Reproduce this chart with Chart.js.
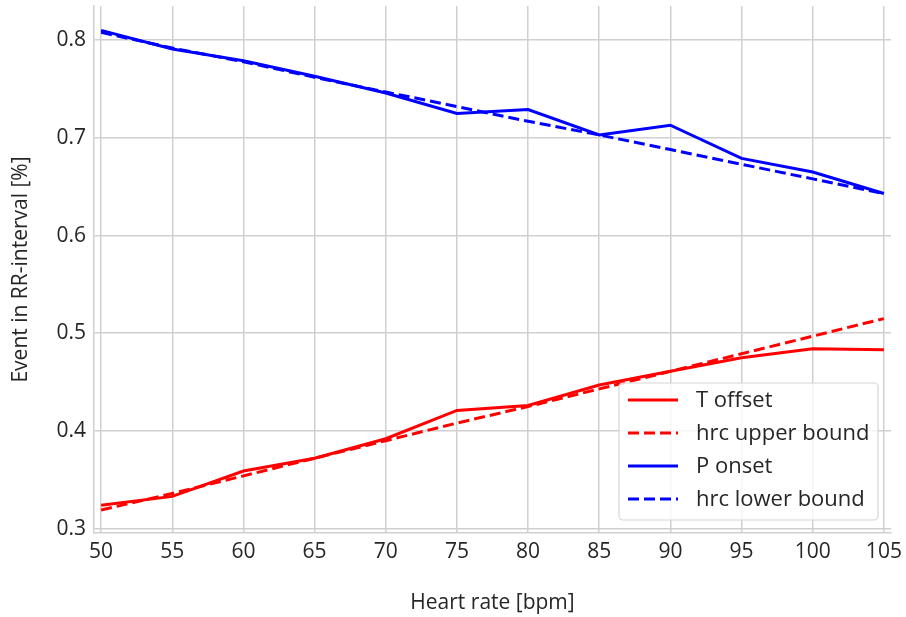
<!DOCTYPE html>
<html>
<head>
<meta charset="utf-8">
<script src="https://cdn.jsdelivr.net/npm/chart.js@4.4.0/dist/chart.umd.min.js"></script>
<style>
  html, body { margin: 0; padding: 0; background: #fff; }
  #wrap { width: 906px; height: 617px; }
</style>
</head>
<body>
<div id="wrap"><canvas id="hrcChart" width="906" height="617"></canvas></div>
<script>
// heart rate values (bpm)
const heartRates = [50, 55, 60, 65, 70, 75, 80, 85, 90, 95, 100, 105];

// event position in RR-interval
const tOffset    = [0.324, 0.333, 0.359, 0.372, 0.392, 0.421, 0.426, 0.447, 0.461, 0.475, 0.484, 0.483];
const hrcUpper   = [0.319, 0.336, 0.354, 0.372, 0.390, 0.408, 0.425, 0.443, 0.461, 0.479, 0.497, 0.515];
const pOnset     = [0.810, 0.791, 0.779, 0.763, 0.746, 0.725, 0.729, 0.703, 0.713, 0.679, 0.665, 0.643];
const hrcLower   = [0.808, 0.792, 0.778, 0.762, 0.747, 0.732, 0.717, 0.703, 0.688, 0.673, 0.658, 0.643];

const xTicks = [50, 55, 60, 65, 70, 75, 80, 85, 90, 95, 100, 105];
const yTicks = [0.3, 0.4, 0.5, 0.6, 0.7, 0.8];

const FONT = "'Open Sans', 'Noto Sans', sans-serif";
const gridColor = '#d0d0d0';

function pts(ys) {
    return heartRates.map((x, i) => ({ x: x, y: ys[i] }));
}

function line(label, ys, color, dashed) {
    return {
        label: label,
        data: pts(ys),
        borderColor: color,
        backgroundColor: color,
        borderWidth: 3,
        borderDash: dashed ? [11, 5] : [],
        pointRadius: 0,
        tension: 0,
        fill: false
    };
}

// legend drawn inside the plot, lower right
const boxLegend = {
    id: 'boxLegend',
    afterDatasetsDraw(chart) {
        const c = chart.ctx;
        const area = chart.chartArea;
        const right = area.right - 13, bottom = area.bottom - 13;
        const w = 259, h = 137;
        const left = right - w, top = bottom - h;

        c.save();
        c.beginPath();
        c.roundRect(left, top, w, h, 4);
        c.fillStyle = 'rgba(255,255,255,0.8)';
        c.fill();
        c.strokeStyle = '#d6d6d6';
        c.lineWidth = 1.2;
        c.stroke();

        c.font = '22px ' + FONT;
        c.textBaseline = 'middle';
        c.fillStyle = '#262626';
        chart.data.datasets.forEach((ds, i) => {
            const y = top + 17 + i * 33;
            c.beginPath();
            c.setLineDash(ds.borderDash);
            c.strokeStyle = ds.borderColor;
            c.lineWidth = 3;
            c.moveTo(left + 9, y);
            c.lineTo(left + 59, y);
            c.stroke();
            c.setLineDash([]);
            c.fillText(ds.label, left + 77, y + 1);
        });
        c.restore();
    }
};

const ctx = document.getElementById("hrcChart").getContext("2d");

const hrcChart = new Chart(ctx, {
    type: 'line',
    data: {
        datasets: [
            line('T offset', tOffset, '#ff0000', false),
            line('hrc upper bound', hrcUpper, '#ff0000', true),
            line('P onset', pOnset, '#0000ff', false),
            line('hrc lower bound', hrcLower, '#0000ff', true)
        ]
    },
    options: {
        responsive: false,
        animation: false,
        layout: { padding: { left: 0, top: 6, right: 15, bottom: 0 } },
        plugins: {
            legend: { display: false },
            tooltip: { enabled: false }
        },
        scales: {
            x: {
                type: 'linear',
                min: 49.5,
                max: 105.5,
                afterBuildTicks: s => { s.ticks = xTicks.map(v => ({ value: v })); },
                afterFit: s => { s.height = 84; s.paddingLeft = 0; s.paddingRight = 0; },
                grid: { color: gridColor, lineWidth: 1.5, drawTicks: false },
                border: { color: gridColor, width: 1.5 },
                ticks: {
                    color: '#262626',
                    font: { family: FONT, size: 21 },
                    padding: 6,
                    maxRotation: 0,
                    autoSkip: false
                },
                title: {
                    display: true,
                    text: 'Heart rate [bpm]',
                    color: '#262626',
                    font: { family: FONT, size: 21 },
                    padding: { top: 4, bottom: 1 }
                }
            },
            y: {
                type: 'linear',
                min: 0.2955,
                max: 0.835,
                afterBuildTicks: s => { s.ticks = yTicks.map(v => ({ value: v })); },
                afterFit: s => { s.width = 94; s.paddingTop = 0; s.paddingBottom = 0; },
                grid: { color: gridColor, lineWidth: 1.5, drawTicks: false },
                border: { color: gridColor, width: 1.5 },
                ticks: {
                    color: '#262626',
                    font: { family: FONT, size: 21 },
                    padding: 8,
                    callback: v => v.toFixed(1)
                },
                title: {
                    display: true,
                    text: 'Event in RR-interval [%]',
                    color: '#262626',
                    font: { family: FONT, size: 21 },
                    padding: { top: 8, bottom: 0 }
                }
            }
        }
    },
    plugins: [boxLegend]
});
</script>
</body>
</html>
